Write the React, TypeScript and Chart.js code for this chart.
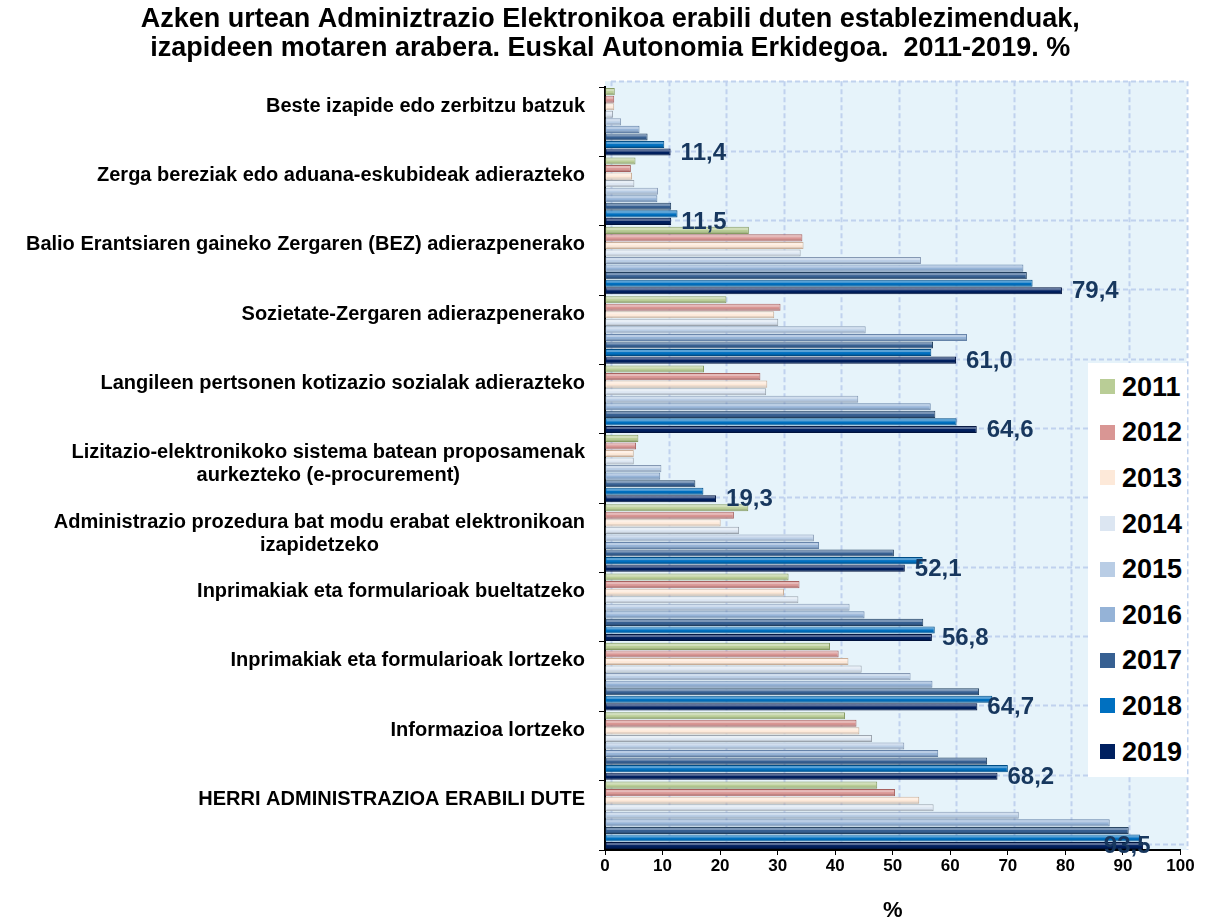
import React, { useEffect, useRef } from "react";
import { Chart, registerables } from "chart.js";

Chart.register(...registerables);

const FONT = "'Liberation Sans', Arial, Helvetica, sans-serif";

const titleLines = [
  "Azken urtean Adminiztrazio Elektronikoa erabili duten establezimenduak,",
  "izapideen motaren arabera. Euskal Autonomia Erkidegoa.  2011-2019. %",
];

const categories: string[][] = [
  ["Beste izapide edo zerbitzu batzuk"],
  ["Zerga bereziak edo aduana-eskubideak adierazteko"],
  ["Balio Erantsiaren gaineko Zergaren (BEZ) adierazpenerako"],
  ["Sozietate-Zergaren adierazpenerako"],
  ["Langileen pertsonen kotizazio sozialak adierazteko"],
  ["Lizitazio-elektronikoko sistema batean proposamenak", "aurkezteko (e-procurement)"],
  ["Administrazio prozedura bat modu erabat elektronikoan", "izapidetzeko"],
  ["Inprimakiak eta formularioak bueltatzeko"],
  ["Inprimakiak eta formularioak lortzeko"],
  ["Informazioa lortzeko"],
  ["HERRI ADMINISTRAZIOA ERABILI DUTE"],
];

const years = ["2011", "2012", "2013", "2014", "2015", "2016", "2017", "2018", "2019"];

const v2011 = [1.7, 5.3, 25.0, 21.1, 17.2, 5.8, 24.9, 31.9, 39.1, 41.7, 47.3];
const v2012 = [1.6, 4.5, 34.3, 30.5, 27.0, 5.4, 22.4, 33.8, 40.6, 43.7, 50.4];
const v2013 = [1.6, 4.7, 34.5, 29.4, 28.2, 5.0, 20.1, 31.1, 42.3, 44.2, 54.6];
const v2014 = [1.4, 5.1, 34.0, 30.1, 28.0, 5.0, 23.3, 33.6, 44.6, 46.4, 57.1];
const v2015 = [2.8, 9.2, 54.9, 45.3, 44.0, 9.8, 36.3, 42.5, 53.1, 52.0, 71.9];
const v2016 = [6.0, 9.1, 72.7, 62.9, 56.6, 9.6, 37.2, 45.1, 56.9, 57.9, 87.7];
const v2017 = [7.4, 11.5, 73.3, 57.0, 57.4, 15.7, 50.2, 55.3, 65.0, 66.4, 91.0];
const v2018 = [10.3, 12.6, 74.3, 56.7, 61.1, 17.1, 55.2, 57.3, 67.3, 70.0, 93.0];
const v2019 = [11.4, 11.5, 79.4, 61.0, 64.6, 19.3, 52.1, 56.8, 64.7, 68.2, 93.5];

const seriesValues = [v2011, v2012, v2013, v2014, v2015, v2016, v2017, v2018, v2019];

const fillColors = ["#b9cd96", "#d99694", "#fde9d9", "#dce6f2", "#b9cde5", "#95b3d7", "#376092", "#0070c0", "#002060"];
const edgeColors = ["#879c63", "#a86260", "#c9ae98", "#9aa3ad", "#8598b3", "#6482a8", "#23405f", "#004d86", "#00133d"];

const labelColor = "#17375e";

const fmt = (v: number) => v.toFixed(1).replace(".", ",");

export default function App() {
  const canvasRef = useRef<HTMLCanvasElement>(null);

  useEffect(() => {
    const canvas = canvasRef.current;
    if (!canvas) return;

    const depth = 6;

    const wallPlugin = {
      id: "wall",
      beforeDraw(chart: any) {
        const { ctx, chartArea: a, scales } = chart;
        const xs = scales.x;
        const ys = scales.y;
        ctx.save();
        ctx.fillStyle = "#e6f3fa";
        ctx.fillRect(a.left, a.top - depth, a.right + depth - a.left, a.bottom - a.top + depth);
        ctx.strokeStyle = "#c0d2ee";
        ctx.lineWidth = 2;
        ctx.setLineDash([5, 3]);
        xs.ticks.forEach((t: any) => {
          const px = Math.round(xs.getPixelForValue(t.value) + depth) + 0.5;
          ctx.beginPath();
          ctx.moveTo(px, a.top - depth);
          ctx.lineTo(px, a.bottom);
          ctx.stroke();
        });
        for (let i = 0; i <= categories.length; i++) {
          const py = Math.round(ys.getPixelForValue(i - 0.5) - depth) + 0.5;
          ctx.beginPath();
          ctx.moveTo(a.left + depth, py);
          ctx.lineTo(a.right + depth, py);
          ctx.stroke();
        }
        ctx.restore();
      },
    };

    const shinePlugin = {
      id: "shine",
      afterDatasetsDraw(chart: any) {
        const { ctx } = chart;
        ctx.save();
        seriesValues.forEach((_, di) => {
          const meta = chart.getDatasetMeta(di);
          meta.data.forEach((bar: any) => {
            const h = bar.height;
            const top = bar.y - h / 2;
            const w = bar.x - bar.base;
            ctx.fillStyle = "rgba(255,255,255,0.35)";
            ctx.fillRect(bar.base + 1, top + 1, Math.max(w - 2, 0), h * 0.3);
            ctx.fillStyle = "rgba(0,0,0,0.12)";
            ctx.fillRect(bar.base + 1, top + h * 0.7, Math.max(w - 2, 0), h * 0.3 - 1);
          });
        });
        ctx.restore();
      },
    };

    const textPlugin = {
      id: "texts",
      afterDraw(chart: any) {
        const { ctx, chartArea: a, scales } = chart;
        const ys = scales.y;
        ctx.save();
        // category labels
        ctx.font = `bold 20px ${FONT}`;
        ctx.fillStyle = "#000";
        ctx.textBaseline = "middle";
        ctx.textAlign = "center";
        categories.forEach((lines, i) => {
          const top = ys.getPixelForValue(i - 0.5);
          const maxW = Math.max(...lines.map((l) => ctx.measureText(l).width));
          const cx = a.left - 20 - maxW / 2;
          lines.forEach((l, j) => ctx.fillText(l, cx, top + 19 + j * 23));
        });
        // value labels of last series
        const last = seriesValues.length - 1;
        const meta = chart.getDatasetMeta(last);
        ctx.font = `bold 24px ${FONT}`;
        ctx.fillStyle = labelColor;
        ctx.textAlign = "left";
        meta.data.forEach((bar: any, i: number) => {
          const txt = fmt(seriesValues[last][i]);
          const w = ctx.measureText(txt).width;
          let x = bar.x + 10;
          if (x + w > a.right - 15) x = a.right - w - 30;
          ctx.fillText(txt, x, bar.y + 1);
        });
        ctx.restore();
      },
    };

    const chart = new Chart(canvas, {
      type: "bar",
      data: {
        labels: categories.map((c) => c.join(" ")),
        datasets: years.map((y, i) => ({
          label: y,
          data: seriesValues[i],
          backgroundColor: fillColors[i],
          borderColor: edgeColors[i],
          borderWidth: 1,
          categoryPercentage: 0.98,
          barPercentage: 0.94,
        })),
      },
      options: {
        indexAxis: "y",
        responsive: false,
        animation: false,
        devicePixelRatio: 1,
        layout: { padding: { left: 40, right: 30.5, top: 0, bottom: 0 } },
        plugins: {
          legend: { display: false },
          tooltip: { enabled: false },
          title: {
            display: true,
            text: titleLines,
            color: "#000",
            font: { family: FONT, size: 27, weight: "bold", lineHeight: 1.04 },
            padding: { top: 6, bottom: 25 },
          },
        },
        scales: {
          x: {
            type: "linear",
            min: 0,
            max: 100,
            ticks: {
              stepSize: 10,
              color: "#000",
              padding: 1,
              font: { family: FONT, size: 17, weight: "bold" },
            },
            grid: { drawOnChartArea: false, drawTicks: true, tickLength: 5, color: "#000" },
            border: { display: true, color: "#000", width: 2 },
            title: {
              display: true,
              text: "%",
              color: "#000",
              font: { family: FONT, size: 22, weight: "bold" },
              padding: { top: 0, bottom: 0 },
            },
            afterFit: (scale: any) => {
              scale.height = 74;
            },
          },
          y: {
            type: "category",
            position: "left",
            offset: true,
            ticks: { display: false },
            grid: { drawOnChartArea: false, drawTicks: true, tickLength: 6, color: "#000", offset: true },
            border: { display: true, color: "#000", width: 2 },
            afterFit: (scale: any) => {
              scale.width = 565;
            },
          },
        },
      },
      plugins: [wallPlugin, shinePlugin, textPlugin],
    } as any);

    return () => chart.destroy();
  }, []);

  return (
    <div style={{ position: "absolute", left: 0, top: 0, width: 1211, height: 924, background: "#fff" }}>
      <canvas ref={canvasRef} width={1211} height={924} style={{ display: "block", width: 1211, height: 924 }} />
      <div
        style={{
          position: "absolute",
          left: 1088,
          top: 363,
          width: 99,
          height: 414,
          background: "#fff",
          paddingTop: 1,
          boxSizing: "border-box",
          fontFamily: FONT,
        }}
      >
        {years.map((y, i) => (
          <div key={y} style={{ height: 45.6, display: "flex", alignItems: "center" }}>
            <span
              style={{
                display: "inline-block",
                width: 15,
                height: 15,
                marginLeft: 12,
                marginRight: 7,
                background: fillColors[i],
              }}
            />
            <span style={{ fontWeight: "bold", fontSize: 27, color: "#000", lineHeight: "30px" }}>{y}</span>
          </div>
        ))}
      </div>
    </div>
  );
}
